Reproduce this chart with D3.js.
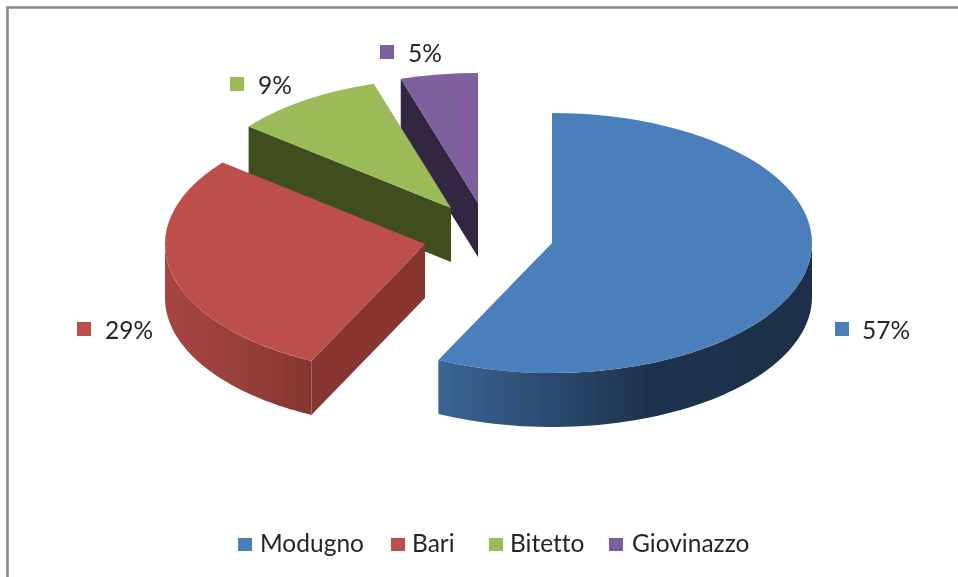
<!DOCTYPE html>
<html><head><meta charset="utf-8">
<script src="https://cdn.jsdelivr.net/npm/d3@7"></script>
<style>html,body{margin:0;padding:0;background:#fff}svg{display:block}text{font-family:Lato,"Open Sans",sans-serif;fill:#262626;font-variant-ligatures:none;font-feature-settings:"liga" 0}</style>
</head><body><svg id="c" width="958" height="577"></svg>
<script>
// Data
const categories = ["Modugno","Bari","Bitetto","Giovinazzo"];
const shares = [57.2,28.6,9.4,4.8];
const labels = ["57%","29%","9%","5%"];
const colors = ["#4c7fbc","#bc4f4b","#9bbb59","#7f619f"];
const edgeColors = ["#1f3350","#87352f","#3f4d1f","#33283f"];
const arcStops = [["#3b6593","#2b4a6f","#1f3350","#1c2f49"],["#a54541","#9f423e","#953f3a","#85352f"],["#3f4d1f","#3f4d1f","#3f4d1f","#3f4d1f"],["#33283f","#33283f","#33283f","#33283f"]];
const stopOffsets = [0,0.3,0.55,1];

// Layout
const W=958,H=577,rx=260,squash=0.5,depth=54,fontSize=24.5;
const centerX=[552,425,451,478], centerY=[243,244,208,203];
const labelMarkX=[835,77,230,380], labelMarkY=[322,322,77,45], labelTextX=[862,105,258,408], labelTextY=[339,339,94,62];
const legendMarkX=[238,391,489,609], legendTextX=[260,412,510,632], legendY=552;

const svg=d3.select("#c");
const defs=svg.append("defs");
const f=defs.append("filter").attr("id","soft").attr("filterUnits","userSpaceOnUse")
  .attr("x",0).attr("y",0).attr("width",W).attr("height",H);
f.append("feGaussianBlur").attr("stdDeviation",0.6);

const root=svg.append("g").attr("filter","url(#soft)");
root.append("rect").attr("width",W).attr("height",H).attr("fill","#fff");
root.append("path").attr("d",`M7.5,${H}V7.5H${W}`).attr("fill","none").attr("stroke","#868686").attr("stroke-width",2.5);

const pie=d3.pie().sort(null).value(d=>d)(shares);
const arc=d3.arc().innerRadius(0).outerRadius(rx);
const pt=(i,a,dy=0)=>[centerX[i]+rx*Math.sin(a),centerY[i]-rx*squash*Math.cos(a)+dy];
const line=d3.line();

// back to front
[3,2,1,0].forEach(i=>{
  const s=pie[i];
  const g=root.append("g");
  const lo=Math.max(s.startAngle,Math.PI/2), hi=Math.min(s.endAngle,3*Math.PI/2);
  if(s.startAngle>Math.PI){
    const p=pt(i,s.startAngle), c=[centerX[i],centerY[i]];
    g.append("path").attr("d",line([c,p,[p[0],p[1]+depth],[c[0],c[1]+depth]])+"Z").attr("fill",edgeColors[i]);
  }
  if(hi>lo){
    const steps=d3.range(0,61).map(k=>lo+(hi-lo)*k/60);
    const top=steps.map(a=>pt(i,a));
    const bot=steps.slice().reverse().map(a=>pt(i,a,depth));
    const xs=top.map(d=>d[0]);
    const id="wall"+i;
    const gr=defs.append("linearGradient").attr("id",id).attr("gradientUnits","userSpaceOnUse")
      .attr("x1",d3.min(xs)).attr("x2",d3.max(xs)).attr("y1",0).attr("y2",0);
    arcStops[i].forEach((c,k)=>gr.append("stop").attr("offset",stopOffsets[k]).attr("stop-color",c));
    g.append("path").attr("d",line(top.concat(bot))+"Z").attr("fill",`url(#${id})`);
  }
  g.append("path").attr("d",arc(s))
    .attr("transform",`translate(${centerX[i]},${centerY[i]}) scale(1,${squash})`)
    .attr("fill",colors[i]);
});

categories.forEach((c,i)=>{
  root.append("rect").attr("x",labelMarkX[i]).attr("y",labelMarkY[i]).attr("width",14).attr("height",14).attr("fill",colors[i]);
  root.append("text").attr("x",labelTextX[i]).attr("y",labelTextY[i]).attr("font-size",fontSize).text(labels[i]);
  root.append("rect").attr("x",legendMarkX[i]).attr("y",legendY-14).attr("width",14).attr("height",13).attr("fill",colors[i]);
  root.append("text").attr("x",legendTextX[i]).attr("y",legendY).attr("font-size",fontSize).text(c);
});
</script></body></html>
